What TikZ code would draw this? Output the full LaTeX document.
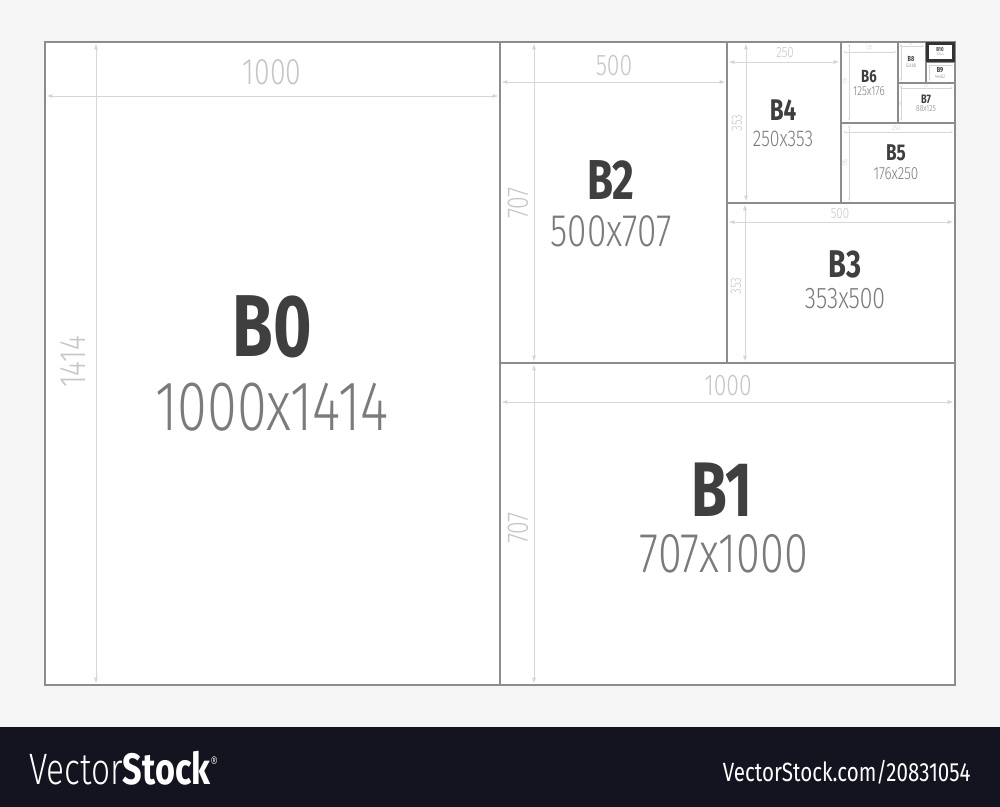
\documentclass[tikz,border=0pt]{standalone}
\usepackage{fontspec}
\setmainfont{Fira Sans}
\newfontfamily\labfont[FakeStretch=0.75]{Fira Sans}
\newfontfamily\numfont[FakeStretch=0.77]{Fira Sans Light}
\newfontfamily\logofont[FakeStretch=0.76]{Fira Sans Light}
\newfontfamily\sansc[FakeStretch=0.78]{Fira Sans}
\usetikzlibrary{arrows.meta}

\definecolor{bggray}{HTML}{F5F5F5}
\definecolor{frame}{HTML}{8C8C8C}
\definecolor{dimline}{HTML}{D6D6D6}
\definecolor{dimtext}{HTML}{C6C6C6}
\definecolor{labtext}{HTML}{3F3F3F}
\definecolor{sizetext}{HTML}{7B7B7B}
\definecolor{band}{HTML}{13141F}
\definecolor{smallbox}{HTML}{333333}

\newcommand{\fsz}[1]{\fontsize{#1}{#1}\selectfont}

\tikzset{
  sheet/.style={draw=frame, line width=0.75pt},
  dimln/.style={dimline, line width=0.5pt, {Triangle[length=3pt,width=2pt]}-{Triangle[length=3pt,width=2pt]}},
  dimsm/.style={dimline, line width=0.35pt, {Triangle[length=1.2pt,width=0.8pt]}-{Triangle[length=1.2pt,width=0.8pt]}},
  lab/.style={labtext, inner sep=0pt, font=\labfont\bfseries\fsz{#1}},
  size/.style={sizetext, inner sep=0pt, font=\numfont\fsz{#1}},
  dimtxt/.style={dimtext, inner sep=0pt, font=\numfont\fsz{#1}}
}

\begin{document}
\begin{tikzpicture}[x=0.02cm, y=-0.02cm]

\fill[bggray] (0,0) rectangle (1000,807);
\useasboundingbox (0,0) rectangle (1000,807);
\fill[white] (45,42) rectangle (955,685);

% === B0 ===
\draw[dimln] (47,96) -- (498,96);
\draw[dimln] (96,44) -- (96,683);
\node[dimtxt=21] (b0w) at (272,72) {1000};
\node[dimtxt=21, rotate=90] (b0h) at (73,362) {1414};
\node[lab=50] (b0) at (272,327) {B0};
\node[size=40] (b0size) at (272,407) {1000x1414};

% === B1 ===
\draw[dimln] (502,402) -- (953,402);
\draw[dimln] (534,365) -- (534,683);
\node[dimtxt=17] (b1w) at (728,386) {1000};
\node[dimtxt=17, rotate=90] (b1h) at (518,528) {707};
\node[lab=44] (b1) at (722,490) {B1};
\node[size=32] (b1size) at (724,554) {707x1000};

% === B2 ===
\draw[dimln] (502,82) -- (725,82);
\draw[dimln] (534,44) -- (534,361);
\node[dimtxt=17] (b2w) at (614,66) {500};
\node[dimtxt=17, rotate=90] (b2h) at (518,203) {707};
\node[lab=32] (b2) at (611,180) {B2};
\node[size=26] (b2size) at (611,231) {500x707};

% === B3 ===
\draw[dimln] (729,222) -- (953,222);
\draw[dimln] (745,205) -- (745,361);
\node[dimtxt=8.5] (b3w) at (840,214) {500};
\node[dimtxt=8.5, rotate=90] (b3h) at (736,286) {353};
\node[lab=22] (b3) at (845,264) {B3};
\node[size=17] (b3size) at (845,299) {353x500};

% === B4 ===
\draw[dimln] (729,62) -- (839,62);
\draw[dimln] (746,44) -- (746,201);
\node[dimtxt=8.5] (b4w) at (785,53) {250};
\node[dimtxt=8.5, rotate=90] (b4h) at (737,123) {353};
\node[lab=17] (b4) at (783,110) {B4};
\node[size=13] (b4size) at (783,139) {250x353};

% === B5 ===
\draw[dimsm] (843,132) -- (953,132);
\draw[dimsm] (849,125) -- (849,201);
\node[dimtxt=4] (b5w) at (896,128) {250};
\node[dimtxt=4, rotate=90] (b5h) at (845,163) {176};
\node[lab=13] (b5) at (896,153) {B5};
\node[size=10] (b5size) at (896,174) {176x250};

% === B6 ===
\draw[dimsm] (843,52) -- (896,52);
\draw[dimsm] (849,44) -- (849,121);
\node[dimtxt=3.3] (b6w) at (869,47.5) {125};
\node[dimtxt=3.3, rotate=90] (b6h) at (845,81) {176};
\node[lab=10] (b6) at (869,77) {B6};
\node[size=7.4] (b6size) at (869,91) {125x176};

% === B7 ===
\draw[dimsm] (900,88) -- (953,88);
\draw[dimsm] (901,85) -- (901,121);
\node[dimtxt=2.5] (b7w) at (926,85.8) {125};
\node[dimtxt=2.5, rotate=90] (b7h) at (899.3,104) {88};
\node[lab=7] (b7) at (926,99) {B7};
\node[size=5] (b7size) at (926,109) {88x125};

% === B8 ===
\draw[dimsm] (900,46) -- (924,46);
\draw[dimsm] (901,44) -- (901,81);
\node[dimtxt=1.8] (b8w) at (911,44.8) {62};
\node[lab=4.2] (b8) at (911,59) {B8};
\node[size=3] (b8size) at (911,66) {62x88};

% === B9 ===
\draw[dimsm] (928,65.5) -- (953,65.5);
\draw[dimsm] (929.5,65) -- (929.5,81);
\node[lab=4.2] (b9) at (940,70.5) {B9};
\node[size=3] (b9size) at (940,76.5) {44x62};

% === SHEET BORDERS ===
\draw[sheet] (45,42) rectangle (955,685);
\draw[sheet] (500,42) -- (500,685);
\draw[sheet] (500,363) -- (955,363);
\draw[sheet] (727,42) -- (727,363);
\draw[sheet] (727,203) -- (955,203);
\draw[sheet] (841,42) -- (841,203);
\draw[sheet] (841,123) -- (955,123);
\draw[sheet] (898,42) -- (898,123);
\draw[sheet] (898,83) -- (955,83);
\draw[sheet] (926,42) -- (926,83);
\draw[sheet] (926,62) -- (955,62);

% === B10 ===
\draw[smallbox, line width=1.8pt, fill=white] (927.5,43.5) rectangle (953.5,60.5);
\node[lab=3.3] (b10) at (940,49.5) {B10};
\node[size=2.3] (b10size) at (940,54.5) {31x44};

% === BOTTOM BAND ===
\fill[band] (0,727) rectangle (1000,807);
\node[white, anchor=west, inner sep=0pt, font=\logofont\fsz{25}] (logo) at (29,768)
  {Vector{\sansc\bfseries Stock}\raisebox{9pt}{\logofont\fsz{9}®}};
\node[white, anchor=east, inner sep=0pt, font=\sansc\fsz{15}] (url) at (971,772) {VectorStock.com/20831054};

\end{tikzpicture}
\end{document}
